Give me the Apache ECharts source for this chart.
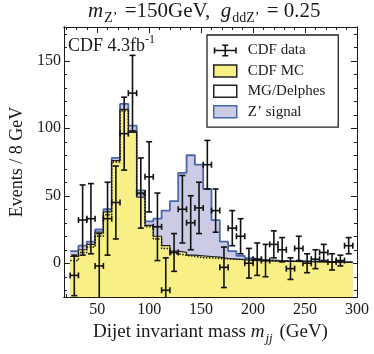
<!DOCTYPE html>
<html>
<head>
<meta charset="utf-8">
<script src="https://cdn.jsdelivr.net/npm/echarts@6/dist/echarts.min.js"></script>
<style>
  html, body { margin: 0; padding: 0; background: #fff; }
  #chart { width: 374px; height: 354px; }
</style>
</head>
<body>
<div id="chart"></div>
<script>
// bin centres, 8 GeV wide
const massBins = [28, 36, 44, 52, 60, 68, 76, 84, 92, 100, 108, 116, 124, 132, 140, 148, 156,
  164, 172, 180, 188, 196, 204, 212, 220, 228, 236, 244, 252, 260, 268, 276, 284, 292];

const dataEvents = [-9, 32, 33, -2, 33, 45, 96, 126, 52, 64, 27, -20, 8, 40, 30, 41, 73,
  39, -3, 26, 20, 0, 3, 2, 14, 10, -4, 11, 0, 3, 8, 1, 2, 13];
const dataErr = [15, 26, 26, 24, 27, 27, 27, 28, 26, 26, 25, 24, 14, 25, 20, 19, 18,
  16, 15, 13, 13, 11, 12, 12, 10, 9, 8, 9, 7, 7, 6, 6, 4, 6];

const cdfMC = [5, 10, 14, 23, 38, 76, 114, 97, 49, 28, 20, 13, 9, 8, 6, 5.5, 5,
  4.5, 3.5, 3, 2.6, 2.2, 2, 1.8, 1.6, 1.4, 1.3, 1.2, 1.1, 1, 0.9, 0.8, 0.7, 0.6];
const mgDelphes = [2, 8, 12, 20, 36, 75, 113, 98, 51, 27, 18, 11, 7, 6, 5, 4, 4,
  3.5, 3.2, 3, 2.8, 2.5, 2.3, 2.1, 2, 1.8, 1.7, 1.5, 1.4, 1.3, 1.2, 1.1, 1, 0.9];
const zSignal = [9, 13, 16, 25, 40, 78, 118, 102, 54, 31, 33, 39, 46, 67, 80, 73, 55,
  32, 16, 9, 5.5, 3.8, 2.5, 2.2, 1.9, 1.7, 1.5, 1.4, 1.2, 1.1, 1, 0.9, 0.8, 0.7];

const xMajor = [50, 100, 150, 200, 250, 300];
const xMinor = [20, 30, 40, 60, 70, 80, 90, 110, 120, 130, 140, 160, 170, 180, 190,
  210, 220, 230, 240, 260, 270, 280, 290];
const yMajor = [0, 50, 100, 150];
const yMinor = [-20, -10, 10, 20, 30, 40, 60, 70, 80, 90, 110, 120, 130, 140, 160, 170];

const binHalf = 4;
const serif = 'Liberation Serif';
const ink = '#1a1a1a';
const yellow = '#f8ef86';
const lavender = '#cbcbe6';
const blue = '#4a67ad';

function stepData(values) {
  const pts = massBins.map((m, i) => [m - binHalf, values[i]]);
  pts.push([massBins[massBins.length - 1] + binHalf, values[values.length - 1]]);
  return pts;
}

function xAxisDef(position, ticks, len, labels) {
  return {
    type: 'value', min: 18, max: 300, position: position,
    axisLine: { show: true, onZero: false, lineStyle: { color: ink, width: 1 } },
    axisTick: { show: true, inside: true, length: len, customValues: ticks, lineStyle: { color: ink } },
    axisLabel: labels ? {
      show: true, customValues: labels, fontFamily: serif, fontSize: 16, color: ink, margin: 5
    } : { show: false },
    splitLine: { show: false }
  };
}

function yAxisDef(position, ticks, len, labels) {
  return {
    type: 'value', min: -25, max: 175, position: position,
    axisLine: { show: true, onZero: false, lineStyle: { color: ink, width: 1 } },
    axisTick: { show: true, inside: true, length: len, customValues: ticks, lineStyle: { color: ink } },
    axisLabel: labels ? {
      show: true, customValues: labels, fontFamily: serif, fontSize: 16, color: ink, margin: 3
    } : { show: false },
    splitLine: { show: false }
  };
}

function renderErrorBar(params, api) {
  const m = api.value(0), v = api.value(1), e = api.value(2);
  const c = api.coord([m, v]);
  const hi = api.coord([m, v + e]);
  const lo = api.coord([m, v - e]);
  const l = api.coord([m - binHalf, v]);
  const r = api.coord([m + binHalf, v]);
  const cap = 3;
  const style = { stroke: '#111', lineWidth: 1.6 };
  const seg = (x1, y1, x2, y2) => ({ type: 'line', shape: { x1, y1, x2, y2 }, style: style });
  return {
    type: 'group',
    children: [
      seg(c[0], hi[1], c[0], lo[1]),
      seg(l[0], c[1], r[0], c[1]),
      seg(c[0] - cap, hi[1], c[0] + cap, hi[1]),
      seg(c[0] - cap, lo[1], c[0] + cap, lo[1]),
      seg(l[0], c[1] - cap, l[0], c[1] + cap),
      seg(r[0], c[1] - cap, r[0], c[1] + cap)
    ]
  };
}

const chart = echarts.init(document.getElementById('chart'), null, { renderer: 'canvas' });

const xName = xAxisDef('bottom', xMajor, 6, xMajor);
xName.name = '{n|Dijet invariant mass }{i|m}{s|jj}{n| (GeV)}';
xName.nameLocation = 'middle';
xName.nameGap = 18;
xName.nameTextStyle = {
  rich: {
    n: { fontFamily: serif, fontSize: 19, color: ink, verticalAlign: 'top', lineHeight: 20 },
    i: { fontFamily: serif, fontSize: 19, fontStyle: 'italic', color: ink, verticalAlign: 'top', lineHeight: 20 },
    s: { fontFamily: serif, fontSize: 13, fontStyle: 'italic', color: ink, verticalAlign: 'top', lineHeight: 13, padding: [9, 2, 0, 1] }
  }
};

const yName = yAxisDef('left', yMajor, 6, yMajor);
yName.name = 'Events / 8 GeV';
yName.nameLocation = 'middle';
yName.nameGap = 32;
yName.nameRotate = 90;
yName.nameTextStyle = { fontFamily: serif, fontSize: 18, color: ink };

const option = {
  backgroundColor: '#fff',
  animation: false,
  title: {
    text: '{i|m}{s|Z’}{n| =150GeV,  }{i|g}{s|ddZ’}{n| = 0.25}',
    left: 88,
    top: 1,
    padding: 0,
    textStyle: {
      fontWeight: 'normal',
      rich: {
        n: { fontFamily: serif, fontSize: 21, fontWeight: 'normal', color: ink, verticalAlign: 'top', lineHeight: 22 },
        i: { fontFamily: serif, fontSize: 21, fontWeight: 'normal', fontStyle: 'italic', color: ink, verticalAlign: 'top', lineHeight: 22 },
        s: { fontFamily: serif, fontSize: 14, fontWeight: 'normal', color: ink, verticalAlign: 'top', lineHeight: 14, padding: [10, 2, 0, 1] }
      }
    }
  },
  grid: { left: 55, right: 17, top: 27, bottom: 57, containLabel: false },
  legend: {
    orient: 'vertical',
    left: 207,
    top: 35,
    itemWidth: 23,
    itemHeight: 12,
    itemGap: 5.4,
    padding: [8, 13, 8, 6],
    borderColor: '#222',
    borderWidth: 1.3,
    selectedMode: false,
    textStyle: { fontFamily: serif, fontSize: 15, color: ink, padding: [0, 0, 0, 6] },
    data: [
      {
        name: 'CDF data',
        icon: 'path://M0,5.2h23v1.6h-23z M10.7,0h1.6v12h-1.6z M0,3h1.6v6h-1.6z M21.4,3h1.6v6h-1.6z M8.5,0h6v1.4h-6z M8.5,10.6h6v1.4h-6z',
        itemStyle: { color: '#111', borderWidth: 0 }
      },
      { name: 'CDF MC', icon: 'rect', itemStyle: { color: yellow, borderColor: '#222', borderWidth: 1.5 } },
      { name: 'MG/Delphes', icon: 'rect', itemStyle: { color: '#fff', borderColor: '#222', borderWidth: 1.5 } },
      { name: 'Z’ signal', icon: 'rect', itemStyle: { color: lavender, borderColor: blue, borderWidth: 1.5 } }
    ]
  },
  xAxis: [
    xName,
    xAxisDef('bottom', xMinor, 3, null),
    xAxisDef('top', xMajor, 6, null),
    xAxisDef('top', xMinor, 3, null)
  ],
  yAxis: [
    yName,
    yAxisDef('left', yMinor, 3, null),
    yAxisDef('right', yMajor, 6, null),
    yAxisDef('right', yMinor, 3, null)
  ],
  graphic: [
    {
      type: 'text',
      left: 68,
      top: 34,
      style: {
        text: '{n|CDF 4.3fb}{sup|-1}',
        rich: {
          n: { fontFamily: serif, fontSize: 18, fill: ink, verticalAlign: 'top', lineHeight: 20, padding: [3, 0, 0, 0] },
          sup: { fontFamily: serif, fontSize: 12, fill: ink, verticalAlign: 'top', lineHeight: 12 }
        }
      },
      z: 100
    }
  ],
  series: [
    {
      name: 'Z’ signal',
      type: 'line',
      step: 'end',
      symbol: 'none',
      data: stepData(zSignal),
      lineStyle: { color: blue, width: 1.8 },
      itemStyle: { color: lavender },
      areaStyle: { color: lavender, opacity: 1, origin: 'start' },
      z: 1
    },
    {
      name: 'CDF MC',
      type: 'line',
      step: 'end',
      symbol: 'none',
      data: stepData(cdfMC),
      lineStyle: { color: '#222', width: 1.2 },
      itemStyle: { color: yellow },
      areaStyle: { color: yellow, opacity: 1, origin: 'start' },
      z: 2
    },
    {
      name: 'MG/Delphes',
      type: 'line',
      step: 'end',
      symbol: 'none',
      data: stepData(mgDelphes),
      lineStyle: { color: '#111', width: 1.5, type: 'dotted' },
      itemStyle: { color: '#fff' },
      z: 3
    },
    {
      name: 'CDF data',
      type: 'custom',
      renderItem: renderErrorBar,
      clip: true,
      encode: { x: 0, y: 1 },
      data: massBins.map((m, i) => [m, dataEvents[i], dataErr[i]]),
      itemStyle: { color: '#111' },
      z: 4
    }
  ]
};

chart.setOption(option);
</script>
</body>
</html>
